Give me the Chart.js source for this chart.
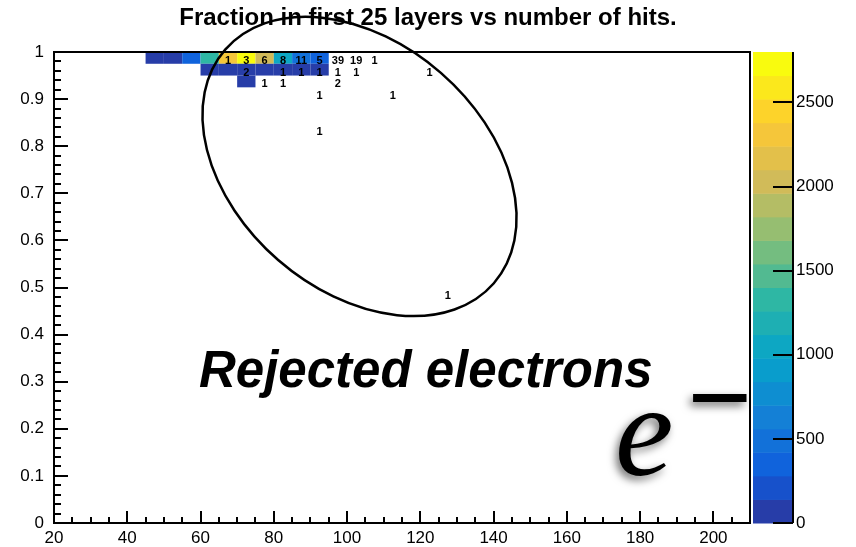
<!DOCTYPE html>
<html>
<head>
<meta charset="utf-8">
<script src="https://cdn.jsdelivr.net/npm/chart.js@4/dist/chart.umd.min.js"></script>
<style>
  html, body { margin: 0; padding: 0; background: #fff; }
  #plot { display: block; }
</style>
</head>
<body>
<canvas id="plot" width="856" height="547"></canvas>
<script>
// Data

const xTicks = [20, 40, 60, 80, 100, 120, 140, 160, 180, 200];
const yTicks = [0, 0.1, 0.2, 0.3, 0.4, 0.5, 0.6, 0.7, 0.8, 0.9, 1];
const zTicks = [0, 500, 1000, 1500, 2000, 2500];

// filled bins (low edges) and their contents
const cellX = [45, 50, 55, 60, 65, 70, 75, 80, 85, 90, 60, 65, 70, 75, 80, 85, 90, 70];
const cellY = [0.975, 0.975, 0.975, 0.975, 0.975, 0.975, 0.975, 0.975, 0.975, 0.975,
  0.95, 0.95, 0.95, 0.95, 0.95, 0.95, 0.95, 0.925];
const cellZ = [110, 90, 340, 1330, 2330, 2750, 2030, 1050, 480, 330,
  60, 60, 60, 60, 60, 60, 60, 50];

// printed bin labels (low edges)
const labelX = [65, 70, 75, 80, 85, 90, 95, 100, 105,
  70, 80, 85, 90, 95, 100, 120,
  75, 80, 95,
  90, 110,
  90,
  125];
const labelY = [0.975, 0.975, 0.975, 0.975, 0.975, 0.975, 0.975, 0.975, 0.975,
  0.95, 0.95, 0.95, 0.95, 0.95, 0.95, 0.95,
  0.925, 0.925, 0.925,
  0.9, 0.9,
  0.825,
  0.475];
const labelText = ['1', '3', '6', '8', '11', '5', '39', '19', '1',
  '2', '1', '1', '1', '1', '1', '1',
  '1', '1', '2',
  '1', '1',
  '1',
  '1'];

// Settings

const binW = 5;
const binH = 0.025;
const zMax = 2800;
const nBands = 20;

const font = 'Liberation Sans, Arial, Helvetica, sans-serif';
const serif = 'Liberation Serif, Times New Roman, serif';

// kBird palette stops
const bird = {
  stops: [0, 0.125, 0.25, 0.375, 0.5, 0.625, 0.75, 0.875, 1],
  r: [0.2082, 0.0592, 0.0780, 0.0232, 0.1802, 0.5301, 0.8186, 0.9956, 0.9764],
  g: [0.1664, 0.3599, 0.5041, 0.6419, 0.7178, 0.7492, 0.7328, 0.7862, 0.9832],
  b: [0.5293, 0.8684, 0.8385, 0.7914, 0.6425, 0.4662, 0.3499, 0.1968, 0.0539],
};

const ring = { x: 103.4, y: 0.757, a: 178, b: 124, angle: 41 };

function birdColor(f) {
  let k = 0;
  while (k < bird.stops.length - 2 && f > bird.stops[k + 1]) k++;
  const t = (f - bird.stops[k]) / (bird.stops[k + 1] - bird.stops[k]);
  const mix = (c) => Math.round(255 * (c[k] + (c[k + 1] - c[k]) * t));
  return 'rgb(' + mix(bird.r) + ',' + mix(bird.g) + ',' + mix(bird.b) + ')';
}

function bandColor(band) {
  const f = Math.floor((band + 0.99) * 255 / nBands) / 254;
  return birdColor(Math.min(1, f));
}

function zBand(z) {
  return Math.max(0, Math.min(nBands - 1, Math.floor(z / zMax * nBands)));
}

// no label overhang on the vertical axes, the frame is fixed
function noPadding(scale) {
  scale.paddingTop = 0;
  scale.paddingBottom = 0;
}

// Drawing

const histPlugin = {
  id: 'hist',
  beforeDatasetsDraw(chart) {
    const ctx = chart.ctx;
    const x = chart.scales.x;
    const y = chart.scales.y;

    ctx.save();
    chart.data.datasets[0].data.forEach(function(c) {
      const left = x.getPixelForValue(c.x);
      const right = x.getPixelForValue(c.x + binW);
      const top = y.getPixelForValue(c.y + binH);
      const bottom = y.getPixelForValue(c.y);
      ctx.fillStyle = bandColor(zBand(c.z));
      ctx.fillRect(left, top, right - left, bottom - top);
    });

    ctx.fillStyle = '#000';
    ctx.font = 'bold 11px ' + font;
    ctx.textAlign = 'center';
    ctx.textBaseline = 'middle';
    labelText.forEach(function(txt, i) {
      const px = x.getPixelForValue(labelX[i] + binW / 2);
      const py = y.getPixelForValue(labelY[i] + binH / 2);
      ctx.fillText(txt, px, py + 3);
    });
    ctx.restore();
  },
  afterDraw(chart) {
    const ctx = chart.ctx;
    const area = chart.chartArea;
    const x = chart.scales.x;
    const y = chart.scales.y;
    const z = chart.scales.z;

    ctx.save();
    ctx.strokeStyle = '#000';
    ctx.fillStyle = '#000';

    // frame
    ctx.lineWidth = 2;
    ctx.strokeRect(area.left, area.top, area.right - area.left, area.bottom - area.top);

    // inward ticks
    ctx.lineWidth = 2;
    ctx.beginPath();
    for (let v = 20; v <= 210; v += 5) {
      const px = Math.round(x.getPixelForValue(v));
      const len = (v - 20) % 20 === 0 ? 12 : 6;
      ctx.moveTo(px, area.bottom);
      ctx.lineTo(px, area.bottom - len);
    }
    for (let k = 0; k <= 50; k++) {
      const py = Math.round(y.getPixelForValue(k * 0.02));
      const len = k % 5 === 0 ? 14 : 7;
      ctx.moveTo(area.left, py);
      ctx.lineTo(area.left + len, py);
    }
    ctx.stroke();

    // colour bar
    const barLeft = area.right + 3;
    const barRight = area.right + 42;
    for (let i = 0; i < nBands; i++) {
      const top = z.getPixelForValue((i + 1) * zMax / nBands);
      const bottom = z.getPixelForValue(i * zMax / nBands);
      ctx.fillStyle = bandColor(i);
      ctx.fillRect(barLeft, top, barRight - barLeft, bottom - top + 0.5);
    }
    ctx.lineWidth = 2;
    ctx.beginPath();
    ctx.moveTo(barRight + 1, area.top);
    ctx.lineTo(barRight + 1, area.bottom);
    zTicks.forEach(function(v) {
      const py = Math.round(z.getPixelForValue(v));
      ctx.moveTo(barRight + 1, py);
      ctx.lineTo(barRight - 19, py);
    });
    ctx.stroke();

    // ring around the tail
    ctx.lineWidth = 2.5;
    ctx.beginPath();
    ctx.ellipse(x.getPixelForValue(ring.x), y.getPixelForValue(ring.y),
      ring.a, ring.b, ring.angle * Math.PI / 180, 0, 2 * Math.PI);
    ctx.stroke();

    // annotation
    ctx.fillStyle = '#000';
    ctx.textAlign = 'left';
    ctx.textBaseline = 'alphabetic';
    ctx.font = 'italic bold 51px ' + font;
    ctx.fillText('Rejected electrons', 199, 387);

    ctx.shadowColor = 'rgba(0, 0, 0, 0.55)';
    ctx.shadowBlur = 8;
    ctx.shadowOffsetX = -3;
    ctx.shadowOffsetY = 4;
    ctx.font = 'italic 132px ' + serif;
    ctx.fillText('e', 615, 475);
    ctx.font = 'bold 115px ' + serif;
    ctx.fillText('\u2212', 687, 436);
    ctx.restore();
  },
};

Chart.defaults.font.family = font;
Chart.defaults.color = '#000';

const cells = cellX.map(function(v, i) {
  return { x: v, y: cellY[i], z: cellZ[i] };
});

const chart = new Chart(document.getElementById('plot'), {
  type: 'scatter',
  data: {
    datasets: [{
      label: 'hits',
      data: cells,
      pointRadius: 0,
      pointHoverRadius: 0,
    }],
  },
  options: {
    responsive: false,
    animation: false,
    devicePixelRatio: 1,
    layout: { padding: 0 },
    plugins: {
      legend: { display: false },
      tooltip: { enabled: false },
      title: {
        display: true,
        text: 'Fraction in first 25 layers vs number of hits.',
        color: '#000',
        font: { size: 24, weight: 'bold' },
        padding: { top: 3.6, bottom: 19.6 },
      },
    },
    scales: {
      x: {
        type: 'linear',
        min: 20,
        max: 210,
        grid: { display: false, drawTicks: false },
        border: { display: false },
        ticks: { font: { size: 17 }, padding: 5, maxRotation: 0, autoSkip: false },
        afterBuildTicks: function(scale) {
          scale.ticks = xTicks.map((v) => ({ value: v }));
        },
        afterFit: function(scale) {
          scale.height = 24;
        },
      },
      y: {
        type: 'linear',
        min: 0,
        max: 1,
        grid: { display: false, drawTicks: false },
        border: { display: false },
        ticks: {
          font: { size: 17 },
          padding: 10,
          autoSkip: false,
          callback: (v) => String(v),
        },
        afterBuildTicks: function(scale) {
          scale.ticks = yTicks.map((v) => ({ value: v }));
        },
        afterFit: function(scale) {
          scale.width = 54;
          noPadding(scale);
        },
      },
      z: {
        type: 'linear',
        position: 'right',
        min: 0,
        max: zMax,
        grid: { display: false, drawTicks: false },
        border: { display: false },
        ticks: {
          font: { size: 17 },
          padding: 46,
          autoSkip: false,
          callback: (v) => String(v),
        },
        afterBuildTicks: function(scale) {
          scale.ticks = zTicks.map((v) => ({ value: v }));
        },
        afterFit: function(scale) {
          scale.width = 106;
          noPadding(scale);
        },
      },
    },
  },
  plugins: [histPlugin],
});
</script>
</body>
</html>
